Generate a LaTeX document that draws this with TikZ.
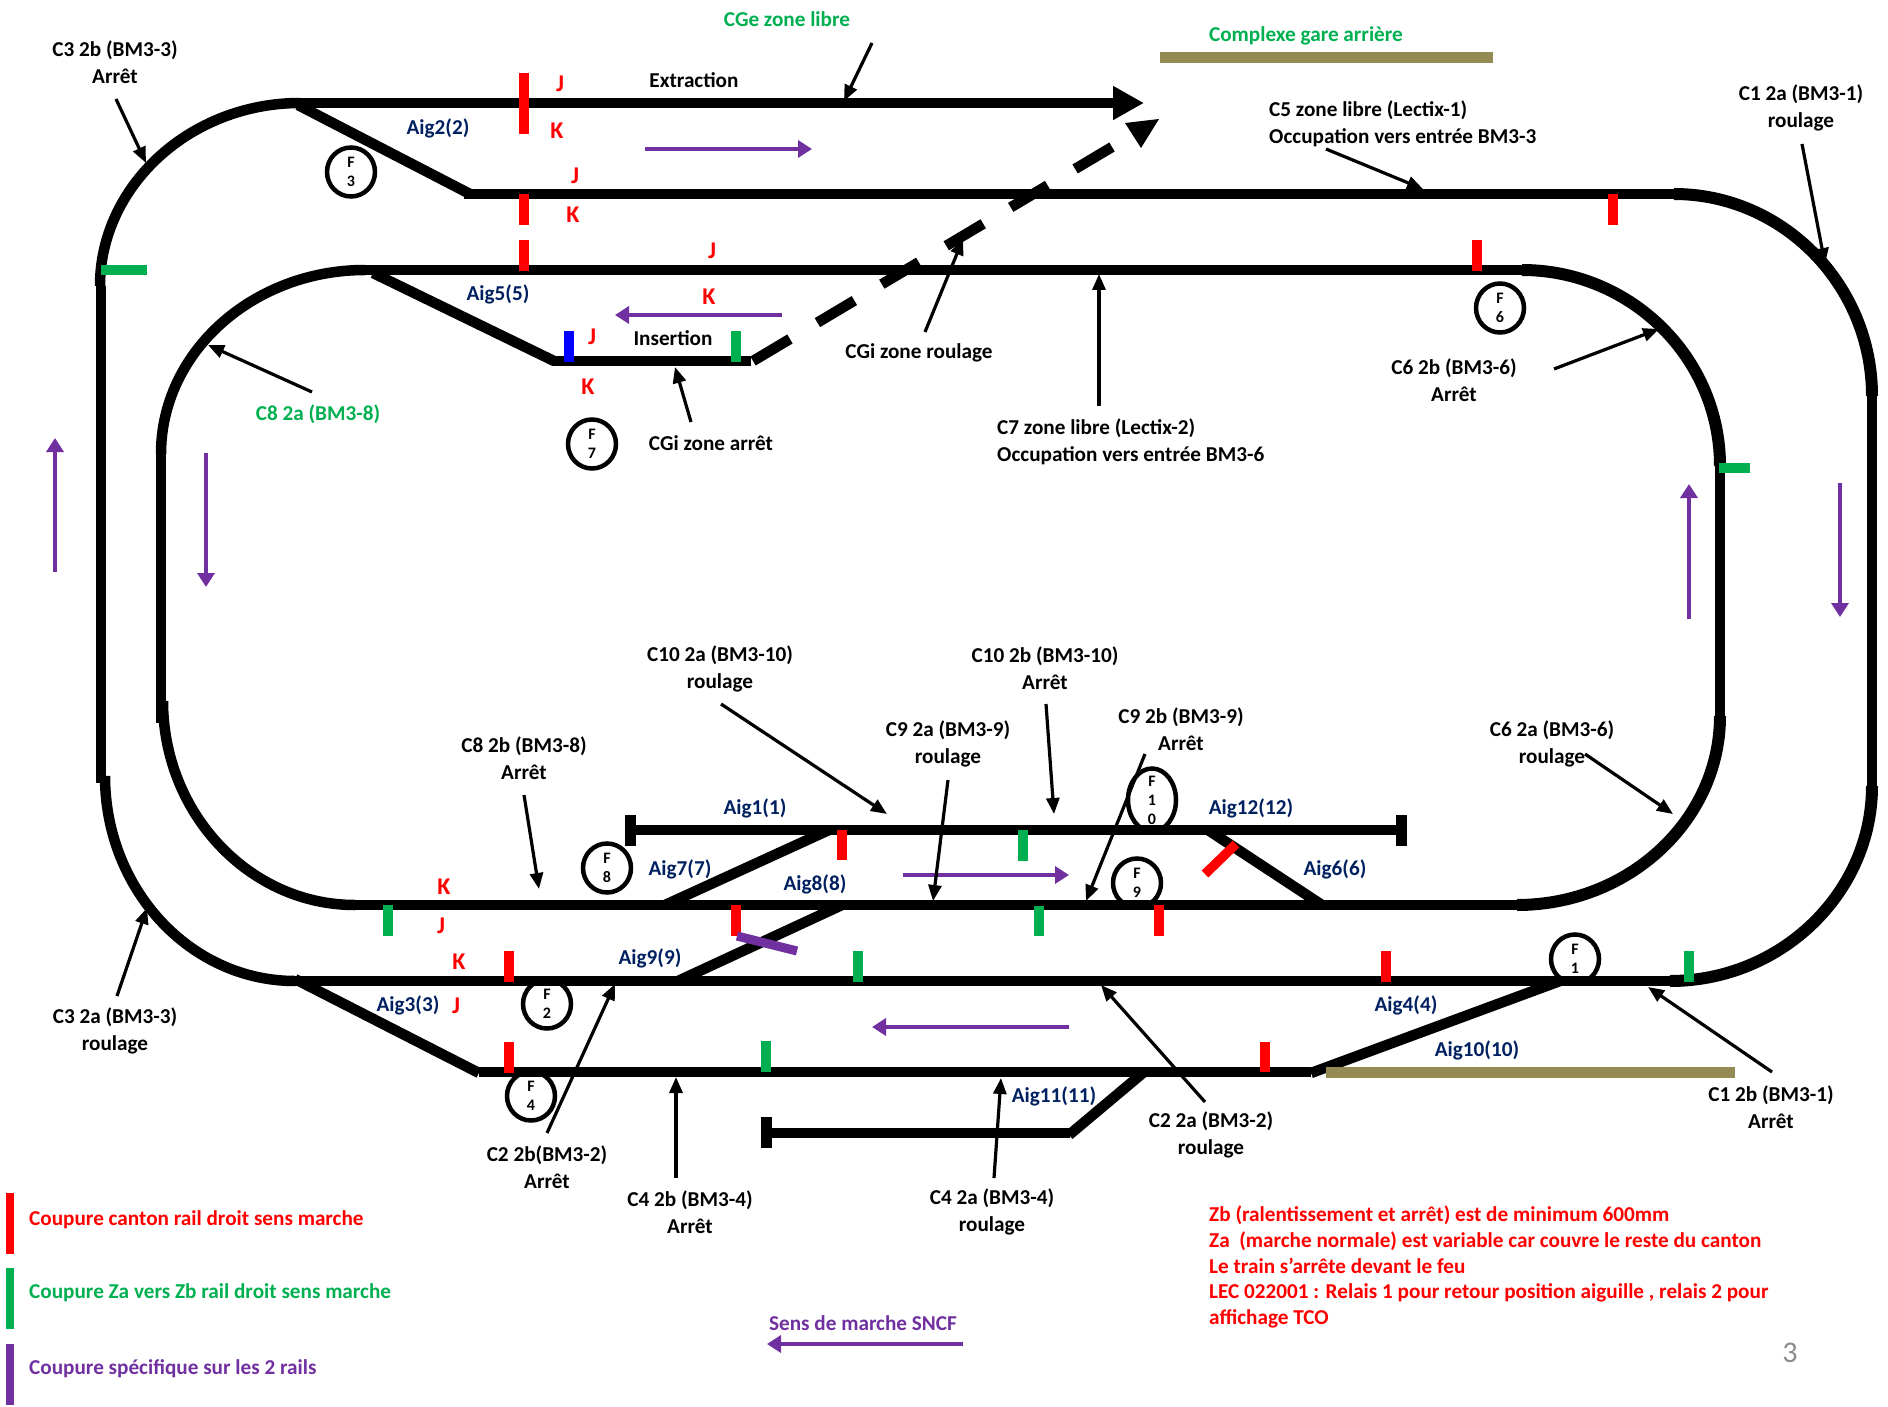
\documentclass[tikz,border=0pt]{standalone}
\usepackage{fontspec}
\setmainfont{Carlito}
\usetikzlibrary{arrows.meta,shapes.geometric}
\definecolor{cutred}{HTML}{FF0000}
\definecolor{cutgreen}{HTML}{00B050}
\definecolor{cutblue}{HTML}{0000FF}
\definecolor{marche}{HTML}{7030A0}
\definecolor{aignavy}{HTML}{002060}
\definecolor{khaki}{HTML}{948A54}
\tikzstyle{txt}=[inner sep=0pt,align=center,font=\fontsize{21.2}{26.5}\selectfont\bfseries]
\tikzstyle{lefttxt}=[txt,anchor=west,align=left]
\tikzstyle{aig}=[txt,text=aignavy,yshift=-1pt]
\tikzstyle{rail}=[txt,text=cutred,font=\fontsize{24}{26}\selectfont\bfseries]
\tikzstyle{track}=[line width=10.5pt,black]
\tikzstyle{curve}=[line width=12pt,black]
\tikzstyle{bumper}=[line width=11pt,black]
\tikzstyle{redcut}=[line width=9.5pt,cutred]
\tikzstyle{greencut}=[line width=9.5pt,cutgreen]
\tikzstyle{zonebar}=[line width=11pt,khaki]
\tikzstyle{sens}=[line width=4pt,marche,-{Triangle[length=14pt,width=17pt]}]
\tikzstyle{pointer}=[line width=3.2pt,black,-{Triangle[length=16pt,width=13pt]}]
\tikzstyle{feu}=[ellipse,draw,line width=4.5pt,fill=white,inner sep=0pt,minimum width=48pt,minimum height=49pt]
\tikzstyle{feutxt}=[inner sep=0pt,align=center,font=\fontsize{16}{19}\selectfont\bfseries]
\begin{document}
\begin{tikzpicture}[x=1pt,y=-1pt]
    \useasboundingbox (0,-1) rectangle (1888,1406);

    % Feux
    \node[feu,label={[feutxt]center:F\\3}] (f3) at (351,171) {};
    \node[feu,label={[feutxt]center:F\\7}] (f7) at (592,443) {};
    \node[feu,label={[feutxt]center:F\\6}] (f6) at (1500,307) {};
    \node[feu,label={[feutxt]center:F\\8}] (f8) at (607,867) {};
    \node[feu,label={[feutxt]center:F\\9}] (f9) at (1137,882) {};
    \node[feu,minimum height=63pt,label={[feutxt]center:F\\1\\0}] (f10) at (1152,799) {};
    \node[feu,label={[feutxt]center:F\\1}] (f1) at (1575,958) {};
    \node[feu,label={[feutxt]center:F\\2}] (f2) at (547,1003) {};
    \node[feu,label={[feutxt]center:F\\4}] (f4) at (531,1095) {};

    % Boucle exterieure
    \draw[track] (101,285) -- (101,782);
    \draw[track] (100,285) .. controls (100,185) and (190,102) .. (300,102);
    \draw[track,-{Triangle[length=31pt,width=32pt]}] (297,102) -- (1144,102);
    \draw[track] (464,193) -- (1674,193);
    \draw[curve] (1674,193) .. controls (1783,193) and (1872,284) .. (1872,395);
    \draw[track] (1872,395) -- (1872,798);
    \draw[curve] (1872,785) .. controls (1872,892) and (1781,980) .. (1670,980);
    \draw[track] (295,980) -- (1680,980);
    \draw[track] (105,775) .. controls (105,888) and (190,980) .. (295,980);

    % Boucle interieure
    \draw[track] (161,453) -- (161,722);
    \draw[track] (161,453) .. controls (161,351) and (253,269) .. (365,269);
    \draw[track] (361,269) -- (1522,269);
    \draw[curve] (1522,269) .. controls (1631,269) and (1720,357) .. (1720,465);
    \draw[track] (1720,465) -- (1720,737);
    \draw[curve] (1720,715) .. controls (1720,819) and (1629,904) .. (1517,904);
    \draw[track] (343,904) -- (1522,904);
    \draw[track] (163,700) .. controls (163,812) and (249,904) .. (355,904);

    % Aiguilles et voies
    \draw[track] (298,104) -- (470,193);
    \draw[track] (373,272) -- (554,360);
    \draw[track] (552,360) -- (751,360);
    \draw[track,dash pattern=on 43pt off 32pt] (753,360) -- (1112,146);
    \fill (1125,122) -- (1159,118) -- (1141,147) -- cycle;
    \draw[track] (630,829) -- (1401,829);
    \draw[bumper] (630,814) -- (630,845);
    \draw[bumper] (1401,814) -- (1401,845);
    \draw[track] (665,904) -- (829,829);
    \draw[track] (678,980) -- (842,904);
    \draw[track] (1208,829) -- (1322,904);
    \draw[track] (295,978) -- (479,1072);
    \draw[track] (479,1071) -- (1311,1071);
    \draw[track] (1311,1072) -- (1560,980);
    \draw[track] (766,1132) -- (1070,1132);
    \draw[bumper] (766,1116) -- (766,1147);
    \draw[track] (1069,1134) -- (1144,1071);
    \draw[zonebar] (1160,57) -- (1493,57);
    \draw[zonebar] (1326,1071) -- (1735,1071);

    % Coupures
    \draw[redcut] (524,72) -- (524,133);
    \draw[redcut] (524,193) -- (524,224);
    \draw[redcut] (524,239) -- (524,270);
    \draw[redcut] (1613,193) -- (1613,224);
    \draw[redcut] (1477,239) -- (1477,270);
    \draw[redcut] (842,829) -- (842,859);
    \draw[redcut] (736,904) -- (736,935);
    \draw[redcut] (509,950) -- (509,981);
    \draw[redcut] (509,1041) -- (509,1072);
    \draw[redcut] (1159,904) -- (1159,935);
    \draw[redcut] (1386,950) -- (1386,981);
    \draw[redcut] (1265,1041) -- (1265,1071);
    \draw[redcut] (1205,873) -- (1236,843);
    \draw[greencut] (101,269) -- (147,269);
    \draw[greencut] (736,330) -- (736,361);
    \draw[greencut] (1719,467) -- (1750,467);
    \draw[greencut] (1023,829) -- (1023,860);
    \draw[greencut] (1039,905) -- (1039,935);
    \draw[greencut] (858,950) -- (858,981);
    \draw[greencut] (766,1040) -- (766,1071);
    \draw[greencut] (1689,950) -- (1689,981);
    \draw[greencut] (388,904) -- (388,935);
    \draw[line width=9.5pt,cutblue] (569,330) -- (569,361);
    \draw[line width=9pt,marche] (737,935) -- (797,950);

    % Sens de marche
    \draw[sens] (645,148) -- (812,148);
    \draw[sens] (782,314) -- (615,314);
    \draw[sens] (55,571) -- (55,437);
    \draw[sens] (206,452) -- (206,586);
    \draw[sens] (1689,618) -- (1689,483);
    \draw[sens] (1840,482) -- (1840,616);
    \draw[sens] (903,874) -- (1069,874);
    \draw[sens] (1069,1026) -- (872,1026);
    \draw[sens] (963,1343) -- (767,1343);

    % Legende
    \draw[line width=8pt,cutred] (10,1192) -- (10,1253);
    \draw[line width=8pt,cutgreen] (10,1267) -- (10,1328);
    \draw[line width=8pt,marche] (10,1343) -- (10,1404);

    % Textes noirs
    \node[txt] (c3b) at (115,61) {C3 2b (BM3-3)\\Arrêt};
    \node[txt] (extr) at (694,79) {Extraction};
    \node[lefttxt] (c5) at (1269,123) {C5 zone libre (Lectix-1)\\Occupation vers entrée BM3-3};
    \node[txt] (c1a) at (1801,107) {C1 2a (BM3-1)\\roulage};
    \node[txt] (ins) at (673,337) {Insertion};
    \node[txt] (cgir) at (919,352) {CGi zone roulage};
    \node[txt] (cgia) at (711,442) {CGi zone arrêt};
    \node[lefttxt] (c7) at (997,441) {C7 zone libre (Lectix-2)\\Occupation vers entrée BM3-6};
    \node[txt] (c6b) at (1454,379) {C6 2b (BM3-6)\\Arrêt};
    \node[txt] (c10a) at (720,668) {C10 2a (BM3-10)\\roulage};
    \node[txt] (c10b) at (1045,667) {C10 2b (BM3-10)\\Arrêt};
    \node[txt] (c9a) at (948,743) {C9 2a (BM3-9)\\roulage};
    \node[txt] (c9b) at (1181,728) {C9 2b (BM3-9)\\Arrêt};
    \node[txt] (c6a) at (1552,743) {C6 2a (BM3-6)\\roulage};
    \node[txt] (c8b) at (524,757) {C8 2b (BM3-8)\\Arrêt};
    \node[txt] (c3a) at (115,1030) {C3 2a (BM3-3)\\roulage};
    \node[txt] (c2b) at (547,1166) {C2 2b(BM3-2)\\Arrêt};
    \node[txt] (c4b) at (690,1211) {C4 2b (BM3-4)\\Arrêt};
    \node[txt] (c4a) at (992,1211) {C4 2a (BM3-4)\\roulage};
    \node[txt] (c2a) at (1211,1134) {C2 2a (BM3-2)\\roulage};
    \node[txt] (c1b) at (1771,1106) {C1 2b (BM3-1)\\Arrêt};

    % Textes verts
    \node[txt,text=cutgreen] (cge) at (787,18) {CGe zone libre};
    \node[txt,text=cutgreen] (cgar) at (1306,35) {Complexe gare arrière};
    \node[txt,text=cutgreen] (c8a) at (318,413) {C8 2a (BM3-8)};

    % Aiguilles
    \node[aig] (aig2) at (438,126) {Aig2(2)};
    \node[aig] (aig5) at (498,292) {Aig5(5)};
    \node[aig] (aig1) at (755,806) {Aig1(1)};
    \node[aig] (aig12) at (1251,806) {Aig12(12)};
    \node[aig] (aig7) at (680,867) {Aig7(7)};
    \node[aig] (aig8) at (815,882) {Aig8(8)};
    \node[aig] (aig6) at (1335,867) {Aig6(6)};
    \node[aig] (aig9) at (650,956) {Aig9(9)};
    \node[aig] (aig3) at (408,1003) {Aig3(3)};
    \node[aig] (aig4) at (1406,1003) {Aig4(4)};
    \node[aig] (aig10) at (1477,1048) {Aig10(10)};
    \node[aig] (aig11) at (1054,1094) {Aig11(11)};

    % Rails J et K
    \node[rail] (j1) at (560,83) {J};
    \node[rail] (k1) at (557,130) {K};
    \node[rail] (j2) at (575,175) {J};
    \node[rail] (k2) at (573,214) {K};
    \node[rail] (j3) at (712,250) {J};
    \node[rail] (k3) at (709,296) {K};
    \node[rail] (j4) at (592,336) {J};
    \node[rail] (k4) at (588,386) {K};
    \node[rail] (k5) at (444,886) {K};
    \node[rail] (j5) at (441,925) {J};
    \node[rail] (k6) at (459,961) {K};
    \node[rail] (j6) at (456,1005) {J};

    % Legende et notes
    \node[lefttxt,text=cutred] (leg1) at (29,1219) {Coupure canton rail droit sens marche};
    \node[lefttxt,text=cutgreen] (leg2) at (29,1292) {Coupure Za vers Zb rail droit sens marche};
    \node[lefttxt,text=marche] (leg3) at (29,1368) {Coupure spécifique sur les 2 rails};
    \node[txt,text=marche] (legs) at (863,1322) {Sens de marche SNCF};
    \node[lefttxt,text=cutred,font=\fontsize{21.2}{25.6}\selectfont\bfseries] (notes) at (1209,1266) {Zb (ralentissement et arrêt) est de minimum 600mm\\Za\ \ (marche normale) est variable car couvre le reste du canton\\Le train s’arrête devant le feu\\LEC 022001 : Relais 1 pour retour position aiguille , relais 2 pour\\affichage TCO};
    \node[inner sep=0pt,text=black!45,font=\fontsize{30}{30}\selectfont] (page) at (1790,1352) {3};

    % Fleches
    \coordinate (p1a) at (116,98);   \coordinate (p1b) at (146,162);
    \coordinate (p2a) at (872,42);   \coordinate (p2b) at (844,100);
    \coordinate (p3a) at (312,391);  \coordinate (p3b) at (208,344);
    \coordinate (p4a) at (691,421);  \coordinate (p4b) at (675,366);
    \coordinate (p5a) at (925,331);  \coordinate (p5b) at (963,238);
    \coordinate (p6a) at (1099,405); \coordinate (p6b) at (1099,273);
    \coordinate (p7a) at (1326,148); \coordinate (p7b) at (1423,188);
    \coordinate (p8a) at (1802,143); \coordinate (p8b) at (1825,263);
    \coordinate (p9a) at (1554,368); \coordinate (p9b) at (1659,328);
    \coordinate (p10a) at (1585,753); \coordinate (p10b) at (1673,813);
    \coordinate (p11a) at (721,703);  \coordinate (p11b) at (887,813);
    \coordinate (p12a) at (1046,703); \coordinate (p12b) at (1054,813);
    \coordinate (p13a) at (948,779);  \coordinate (p13b) at (933,900);
    \coordinate (p14a) at (1145,753); \coordinate (p14b) at (1086,900);
    \coordinate (p15a) at (524,794);  \coordinate (p15b) at (539,888);
    \coordinate (p16a) at (117,995);  \coordinate (p16b) at (147,907);
    \coordinate (p17a) at (547,1132); \coordinate (p17b) at (615,983);
    \coordinate (p18a) at (676,1177); \coordinate (p18b) at (676,1076);
    \coordinate (p19a) at (994,1177); \coordinate (p19b) at (1001,1077);
    \coordinate (p20a) at (1205,1101); \coordinate (p20b) at (1101,984);
    \coordinate (p21a) at (1772,1071); \coordinate (p21b) at (1648,986);

    \draw[pointer] (p1a) -- (p1b);
    \draw[pointer] (p2a) -- (p2b);
    \draw[pointer] (p3a) -- (p3b);
    \draw[pointer] (p4a) -- (p4b);
    \draw[pointer] (p5a) -- (p5b);
    \draw[pointer] (p6a) -- (p6b);
    \draw[pointer] (p7a) -- (p7b);
    \draw[pointer] (p8a) -- (p8b);
    \draw[pointer] (p9a) -- (p9b);
    \draw[pointer] (p10a) -- (p10b);
    \draw[pointer] (p11a) -- (p11b);
    \draw[pointer] (p12a) -- (p12b);
    \draw[pointer] (p13a) -- (p13b);
    \draw[pointer] (p14a) -- (p14b);
    \draw[pointer] (p15a) -- (p15b);
    \draw[pointer] (p16a) -- (p16b);
    \draw[pointer] (p17a) -- (p17b);
    \draw[pointer] (p18a) -- (p18b);
    \draw[pointer] (p19a) -- (p19b);
    \draw[pointer] (p20a) -- (p20b);
    \draw[pointer] (p21a) -- (p21b);

\end{tikzpicture}
\end{document}
